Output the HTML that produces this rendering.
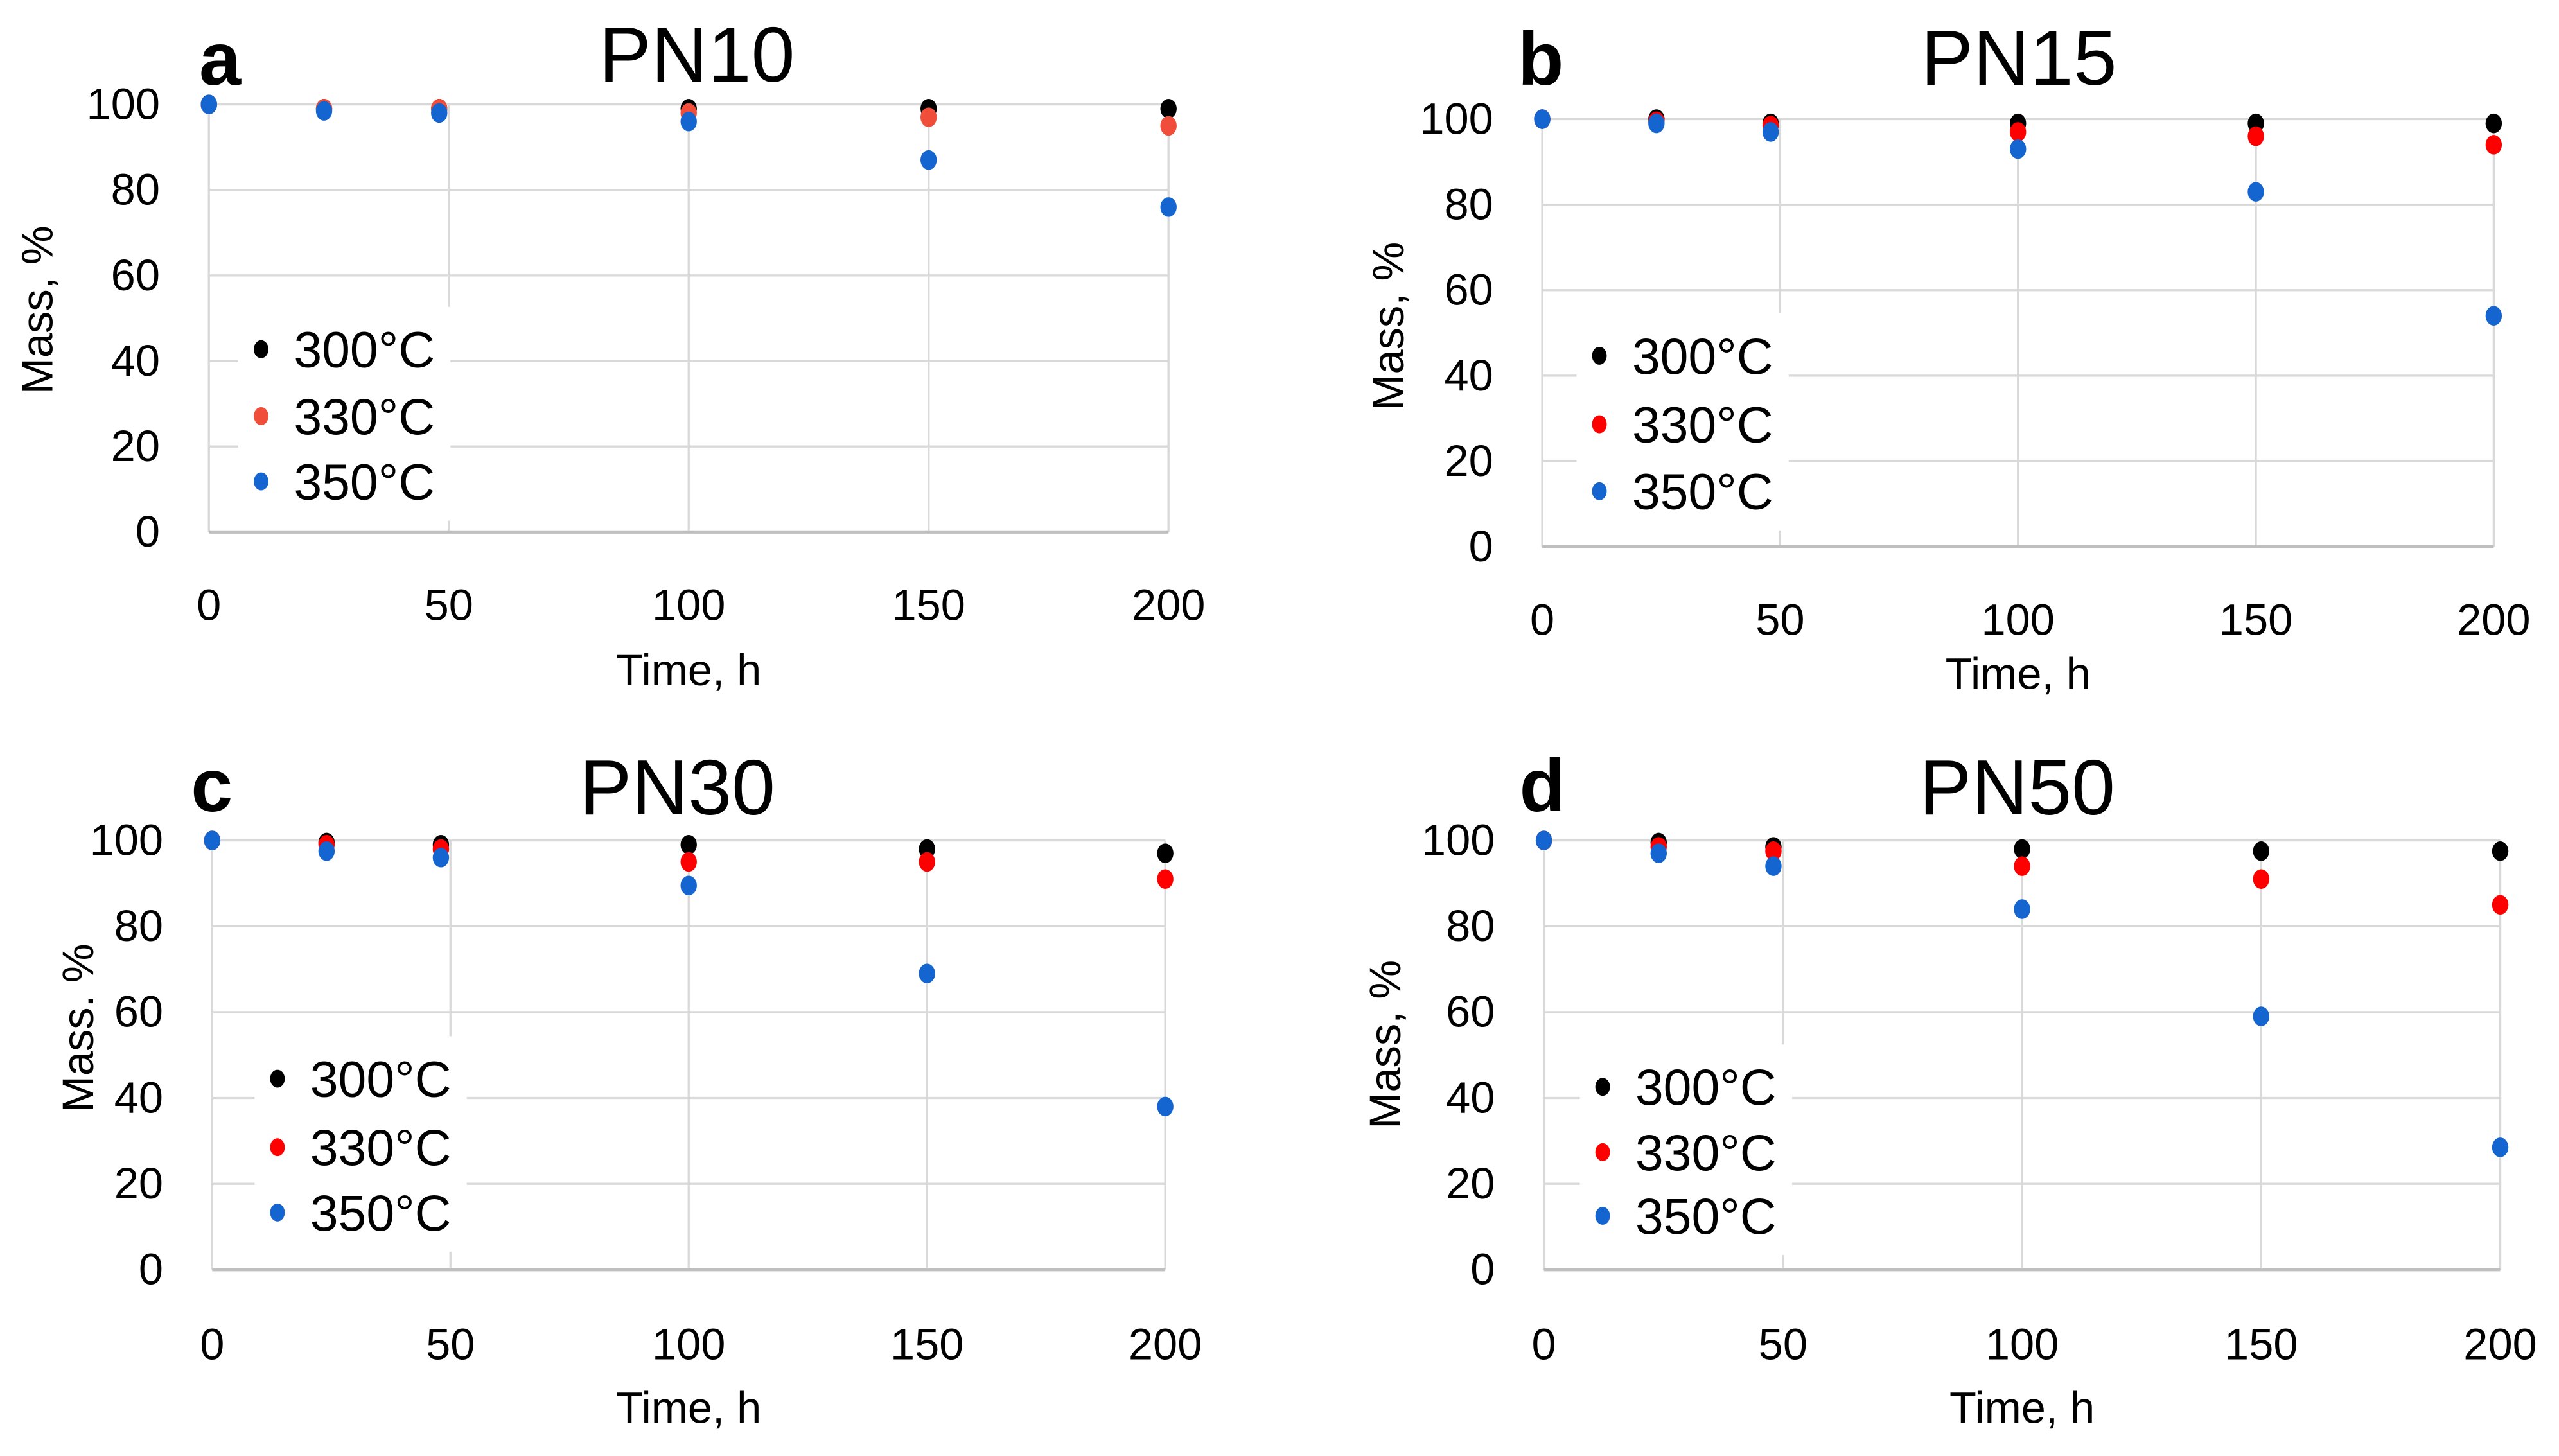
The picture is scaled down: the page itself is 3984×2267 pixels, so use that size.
<!DOCTYPE html>
<html><head><meta charset="utf-8"><style>
html,body{margin:0;padding:0;background:#fff;}
svg{display:block;}
text{font-family:"Liberation Sans Narrow","Liberation Sans",sans-serif;fill:#000;}
</style></head><body>
<svg id="fig" width="3984" height="2267" viewBox="0 0 1568 892.2" preserveAspectRatio="none" xmlns="http://www.w3.org/2000/svg"></svg>
<script>
const times = [0, 24, 48, 100, 150, 200];
const seriesNames = ["300°C", "330°C", "350°C"];
const xTicks = [0, 50, 100, 150, 200];
const yTicks = [0, 20, 40, 60, 80, 100];
const pnA300 = [100, 99, 99, 99, 99, 99];
const pnA330 = [100, 99, 99, 98, 97, 95];
const pnA350 = [100, 98.5, 98, 96, 87, 76];
const pnB300 = [100, 100, 99, 99, 99, 99];
const pnB330 = [100, 99.5, 98.5, 97, 96, 94];
const pnB350 = [100, 99, 97, 93, 83, 54];
const pnC300 = [100, 99.5, 99, 99, 98, 97];
const pnC330 = [100, 99, 98, 95, 95, 91];
const pnC350 = [100, 97.5, 96, 89.5, 69, 38];
const pnD300 = [100, 99.5, 98.5, 98, 97.5, 97.5];
const pnD330 = [100, 98.5, 97.5, 94, 91, 85];
const pnD350 = [100, 97, 94, 84, 59, 28.5];

const NS = "http://www.w3.org/2000/svg";
const svg = document.getElementById('fig');
function mk(tag, attrs, parent){const e=document.createElementNS(NS,tag);for(const k in attrs)e.setAttribute(k,attrs[k]);(parent||svg).appendChild(e);return e;}

const panels = [
 {id:'a',title:'PN10',x0:128,x1:716,yT:64,yB:326,tx:427,ty:50,lx:122,ly:52,leg:[160,214,255,295],tickY:380,timeY:420,ylx:32,yly:190,data:[pnA300,pnA330,pnA350],red:'#f04e3a'},
 {id:'b',title:'PN15',x0:945,x1:1528,yT:73,yB:335,tx:1237,ty:52,lx:930,ly:52,leg:[980,218,260,301],tickY:389,timeY:422,ylx:860,yly:200,data:[pnB300,pnB330,pnB350],red:'#ff0000'},
 {id:'c',title:'PN30',x0:130,x1:714,yT:515,yB:778,tx:415,ty:499,lx:117,ly:497,leg:[170,661,703,743],tickY:833,timeY:872,ylx:57,yly:630,data:[pnC300,pnC330,pnC350],red:'#ff0000'},
 {id:'d',title:'PN50',x0:946,x1:1532,yT:515,yB:778,tx:1236,ty:499,lx:931,ly:497,leg:[982,666,706,745],tickY:833,timeY:872,ylx:858,yly:640,data:[pnD300,pnD330,pnD350],red:'#ff0000'}
];

panels.forEach(p=>{
 const g = mk('g',{});
 
 
 const sx = v => p.x0 + (v/200)*(p.x1-p.x0);
 const sy = v => p.yB - (v/100)*(p.yB-p.yT);
 yTicks.forEach(t=>{
  if(t>0){const l=mk('line',{x1:p.x0,x2:p.x1,y1:sy(t),y2:sy(t),stroke:'#d9d9d9','stroke-width':1.3},g);
   }
  const tl=mk('text',{x:p.x0-30,y:sy(t)+9,'text-anchor':'end','font-size':27},g);
  tl.textContent=t;
  
 });
 xTicks.forEach(t=>{
  const l=mk('line',{x1:sx(t),x2:sx(t),y1:p.yT,y2:p.yB,stroke:'#d9d9d9','stroke-width':1.3},g);
  
  const tl=mk('text',{x:sx(t),y:p.tickY,'text-anchor':'middle','font-size':27},g);
  tl.textContent=t;
  
 });
 const ax=mk('line',{x1:p.x0,x2:p.x1,y1:p.yB,y2:p.yB,stroke:'#bfbfbf','stroke-width':2},g);
 
 // legend background
 const lb=mk('rect',{x:p.leg[0]-14,y:p.leg[1]-26,width:130,height:(p.leg[3]-p.leg[1])+50,fill:'#fff'},g);
 
 const cols=['#000000',p.red,'#1565d0'];
 p.data.forEach((arr,si)=>{
  arr.forEach((v,i)=>{
   const c=mk('ellipse',{cx:sx(times[i]),cy:sy(v),rx:5,ry:6,fill:cols[si]},g);
   
   
  });
  const ly=p.leg[1+si];
  const ld=mk('ellipse',{cx:p.leg[0],cy:ly,rx:4.5,ry:5.5,fill:cols[si]},g);
  
  const lt=mk('text',{x:p.leg[0]+20,y:ly+11,'font-size':31},g);
  lt.textContent=seriesNames[si];
  
 });
 const ti=mk('text',{x:p.tx,y:p.ty,'text-anchor':'middle','font-size':48},g);
 ti.textContent=p.title;
 const le=mk('text',{x:p.lx,y:p.ly,'font-size':46,'font-weight':'bold'},g);
 le.textContent=p.id;
 const xt=mk('text',{x:(p.x0+p.x1)/2,y:p.timeY,'text-anchor':'middle','font-size':27},g);
 xt.textContent='Time, h';
 const yt=mk('text',{x:p.ylx,y:p.yly,'text-anchor':'middle','font-size':27,transform:'rotate(-90 '+p.ylx+' '+p.yly+')'},g);
 yt.textContent=p.id==='c'?'Mass. %':'Mass, %';
});
</script>
</body></html>
